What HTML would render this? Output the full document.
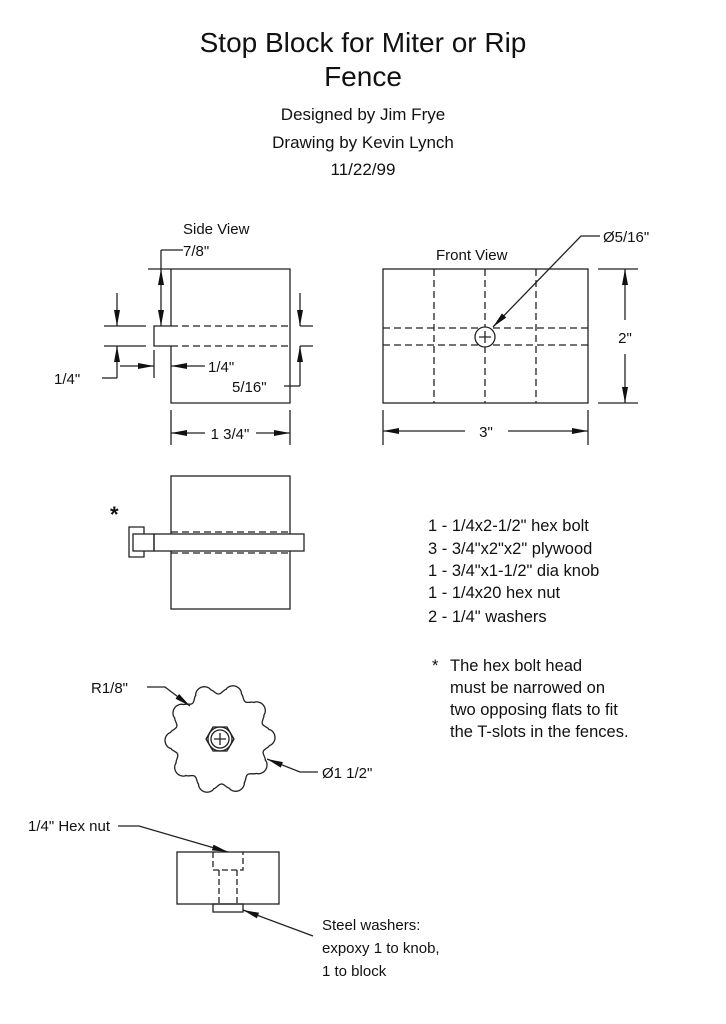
<!DOCTYPE html>
<html><head><meta charset="utf-8"><style>
html,body{margin:0;padding:0;background:#fff}
svg{display:block}
text{font-family:"Liberation Sans",sans-serif;fill:#111}
</style></head><body>
<svg width="726" height="1024" viewBox="0 0 726 1024" xmlns="http://www.w3.org/2000/svg">
<defs>
<marker id="a" viewBox="0 0 16 6" refX="16" refY="3" markerWidth="16" markerHeight="6" orient="auto" markerUnits="userSpaceOnUse"><path d="M0,0 L16,3 L0,6z" fill="#111"/></marker>
</defs>
<g text-anchor="middle">
<text x="363" y="52" font-size="28">Stop Block for Miter or Rip</text>
<text x="363" y="86" font-size="28">Fence</text>
<text x="363" y="120" font-size="17">Designed by Jim Frye</text>
<text x="363" y="148" font-size="17">Drawing by Kevin Lynch</text>
<text x="363" y="175" font-size="17">11/22/99</text>
</g>
<g stroke="#222" stroke-width="1.3" fill="none">
<!-- Side view -->
<path d="M171,269 H290 V403 H171 V346 H154 V326 H171 Z"/>
<path d="M171,326 H290 M171,346 H290" stroke-dasharray="7,4"/>
<path d="M148,269 H171"/>
<path d="M161,250 V269" /><path d="M161,250 H183"/>
<path d="M161,298 V269" marker-end="url(#a)"/><path d="M161,298 V326" marker-end="url(#a)"/>
<path d="M104,326 H146 M104,346 H146"/>
<path d="M117,293 V326" marker-end="url(#a)"/>
<path d="M117,378 V346" marker-end="url(#a)"/>
<path d="M117,378 H102"/>
<path d="M154,350 V378"/>
<path d="M120,366 H154" marker-end="url(#a)"/>
<path d="M205,366 H171" marker-end="url(#a)"/>
<path d="M300,326 H313 M300,346 H313"/>
<path d="M300,293 V326" marker-end="url(#a)"/>
<path d="M300,386 V346" marker-end="url(#a)"/>
<path d="M300,386 H284"/>
<path d="M171,410 V445 M290,410 V445"/>
<path d="M205,433 H171" marker-end="url(#a)"/>
<path d="M256,433 H290" marker-end="url(#a)"/>
<!-- Front view -->
<rect x="383" y="269" width="205" height="134"/>
<path d="M434,269 V403 M485,269 V403 M536,269 V403 M383,328 H588 M383,345 H588" stroke-dasharray="7,4"/>
<circle cx="485" cy="337" r="10" fill="#fff"/>
<path d="M479,337 H491 M485,331 V343"/>
<path d="M600,236 H581 L493,327" marker-end="url(#a)"/>
<path d="M598,269 H638 M598,403 H638"/>
<path d="M625,320 V269" marker-end="url(#a)"/>
<path d="M625,354 V403" marker-end="url(#a)"/>
<path d="M383,410 V445 M588,410 V445"/>
<path d="M465,431 H383" marker-end="url(#a)"/>
<path d="M508,431 H588" marker-end="url(#a)"/>
<!-- bolt view -->
<rect x="171" y="476" width="119" height="133"/>
<path d="M171,532 H290 M171,553 H290" stroke-dasharray="7,4"/>
<rect x="154" y="534" width="150" height="17" fill="#fff"/>
<rect x="133" y="534" width="21" height="17"/>
<path d="M144,534 V527 H129 V557 H144 V551"/>
<!-- knob -->
<path id="knob" d=""/>
<polygon points="234,739 227,751 213,751 206,739 213,727 227,727"/>
<circle cx="220" cy="739" r="12"/>
<circle cx="220" cy="739" r="9"/>
<path d="M214,739 H226 M220,733 V745"/>
<path d="M147,687 H165 L190,706" marker-end="url(#a)"/>
<path d="M318,772 H300 L267,759" marker-end="url(#a)"/>
<!-- hex nut view -->
<rect x="177" y="852" width="102" height="52"/>
<rect x="213" y="904" width="30" height="8"/>
<path d="M213,852 V870 H243 V852 M219,870 V904 M237,870 V904" stroke-dasharray="6,3"/>
<path d="M118,826 H139 L228,852" marker-end="url(#a)"/>
<path d="M313,936 L243,910" marker-end="url(#a)"/>
</g>
<g font-size="15">
<text x="183" y="234">Side View</text>
<text x="183" y="256">7/8"</text>
<text x="54" y="384">1/4"</text>
<text x="208" y="372">1/4"</text>
<text x="232" y="392">5/16"</text>
<text x="230" y="439" text-anchor="middle">1 3/4"</text>
<text x="436" y="260">Front View</text>
<text x="603" y="242">Ø5/16"</text>
<text x="625" y="343" text-anchor="middle">2"</text>
<text x="486" y="437" text-anchor="middle">3"</text>
<text x="110" y="522" font-size="22" font-weight="bold">*</text>
<text x="91" y="693">R1/8"</text>
<text x="322" y="778">Ø1 1/2"</text>
<text x="28" y="831">1/4" Hex nut</text>
<text x="322" y="930">Steel washers:</text>
<text x="322" y="953">expoxy 1 to knob,</text>
<text x="322" y="976">1 to block</text>
</g>
<g font-size="16.5">
<text x="428" y="531">1 - 1/4x2-1/2" hex bolt</text>
<text x="428" y="554">3 - 3/4"x2"x2" plywood</text>
<text x="428" y="576">1 - 3/4"x1-1/2" dia knob</text>
<text x="428" y="598">1 - 1/4x20 hex nut</text>
<text x="428" y="622">2 - 1/4" washers</text>
<text x="432" y="671">*</text>
<text x="450" y="671">The hex bolt head</text>
<text x="450" y="693">must be narrowed on</text>
<text x="450" y="715">two opposing flats to fit</text>
<text x="450" y="737">the T-slots in the fences.</text>
</g>
</svg>
<script>
(function(){var cx=220,cy=739,p=[];for(var i=0;i<=720;i++){var t=i*Math.PI/360;var c=Math.cos(10*t+Math.PI/10);var r=50+5*(c>0?Math.pow(c,0.6):-Math.pow(-c,1.5));p.push((i?'L':'M')+(cx+r*Math.cos(t)).toFixed(1)+','+(cy+r*Math.sin(t)).toFixed(1));}
document.getElementById('knob').setAttribute('d',p.join(' ')+'Z');})();
</script>
</body></html>
